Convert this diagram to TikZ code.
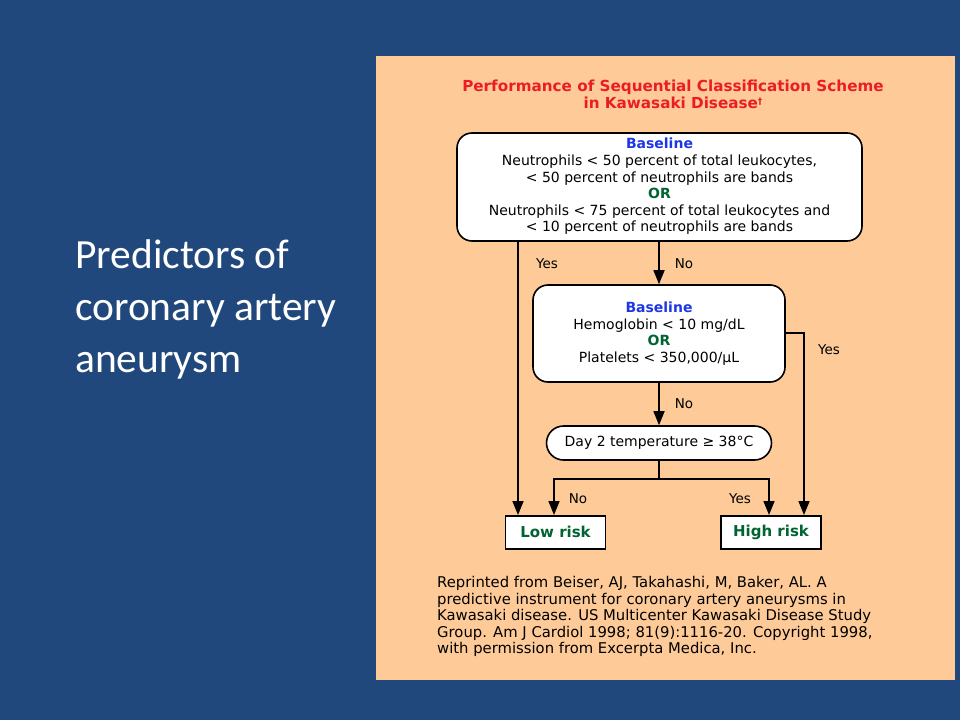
\documentclass[tikz,border=0pt]{standalone}
\usepackage{fontspec}
\setmainfont{DejaVu Sans}
\newfontfamily\slidefont{Carlito}
\usetikzlibrary{arrows.meta}
\definecolor{slidebg}{RGB}{33,72,124}
\definecolor{panel}{RGB}{254,203,152}
\definecolor{ttlred}{RGB}{236,28,36}
\definecolor{baseblue}{RGB}{30,55,230}
\definecolor{orgreen}{RGB}{0,100,50}
\tikzset{
  box/.style={draw=black, line width=1.6pt, fill=white, align=center, inner sep=0pt},
  rbox/.style={box, rounded corners=15pt},
  txt/.style={font=\fontsize{14}{16.6}\selectfont, align=center, inner sep=0pt},
  lbl/.style={font=\fontsize{13.5}{15}\selectfont, inner sep=0pt},
  outbox/.style={box, minimum width=100pt, minimum height=33pt, text=orgreen, font=\bfseries\fontsize{15}{17}\selectfont},
  conn/.style={line width=1.6pt, draw=black},
  arr/.style={conn, -{Triangle[length=14pt,width=11pt]}},
  side/.style={anchor=base west, text=white, inner sep=0pt, font=\slidefont\fontsize{41.5}{50}\selectfont},
}
\begin{document}
\begin{tikzpicture}[x=1pt,y=-1pt]
\useasboundingbox (0,0) rectangle (960,720);
\fill[slidebg] (0,0) rectangle (960,720);
\fill[panel] (376,56) rectangle (955,680);
% left slide text
\node[side] (s1) at (75,268) {Predictors of};
\node[side] (s2) at (75,320) {coronary artery};
\node[side] (s3) at (75,372) {aneurysm};
% title
\node[txt, text=ttlred, font=\bfseries\fontsize{15.2}{17}\selectfont] (title) at (673,94)
  {Performance of Sequential Classification Scheme\\in Kawasaki Disease{\fontsize{9}{9}\selectfont\raisebox{4pt}{†}}};
% box 1
\node[rbox, minimum width=405pt, minimum height=108pt] (b1) at (659.5,187) {};
\node[txt] (b1t) at ([yshift=0.5pt]b1.center)
  {{\color{baseblue}\bfseries Baseline}\\
   Neutrophils < 50 percent of total leukocytes,\\
   < 50 percent of neutrophils are bands\\
   {\color{orgreen}\bfseries OR}\\
   Neutrophils < 75 percent of total leukocytes and\\
   < 10 percent of neutrophils are bands};
% box 2
\node[rbox, minimum width=252pt, minimum height=97pt] (b2) at (659,333.5) {};
\node[txt] (b2t) at (b2.center)
  {{\color{baseblue}\bfseries Baseline}\\
   Hemoglobin < 10 mg/dL\\
   {\color{orgreen}\bfseries OR}\\
   Platelets < 350,000/μL};
% temperature
\node[box, rounded corners=17pt, minimum width=225pt, minimum height=34pt, font=\fontsize{14}{16}\selectfont] (temp) at (659,443)
  {Day 2 temperature ≥ 38°C};
% outcomes
\node[outbox] (low) at (555.5,532.3) {Low risk};
\node[outbox] (high) at (771,532.3) {High risk};
% helper coordinates
\coordinate (xl) at (518,0);
\coordinate (xr) at (804,0);
\coordinate (j) at (659,479);
\coordinate (jl) at (554,0);
\coordinate (jr) at (769,0);
\coordinate (b2r) at (804,333);
% connectors
\draw[arr] (b1.south -| xl) -- (low.north -| xl);
\draw[arr] (b1.south -| b2.north) -- (b2.north);
\draw[arr] (b2.east |- b2r) -- (b2r) -- (high.north -| xr);
\draw[arr] (b2.south) -- (temp.north);
\draw[conn] (temp.south) -- (j);
\draw[arr] (j) -| (low.north -| jl);
\draw[arr] (j) -| (high.north -| jr);
% labels
\node[lbl] (y1) at (547,264) {Yes};
\node[lbl] (n1) at (684,264) {No};
\node[lbl] (y2) at (829,350) {Yes};
\node[lbl] (n2) at (684,404) {No};
\node[lbl] (n3) at (578,499) {No};
\node[lbl] (y3) at (740,499) {Yes};
% reference
\node[anchor=north west, align=left, inner sep=0pt, font=\fontsize{14.8}{16.6}\selectfont] (ref) at (437,576)
  {Reprinted from Beiser, AJ, Takahashi, M, Baker, AL. A\\
   predictive instrument for coronary artery aneurysms in\\
   Kawasaki disease. US Multicenter Kawasaki Disease Study\\
   Group. Am J Cardiol 1998; 81(9):1116-20. Copyright 1998,\\
   with permission from Excerpta Medica, Inc.};
\end{tikzpicture}
\end{document}
